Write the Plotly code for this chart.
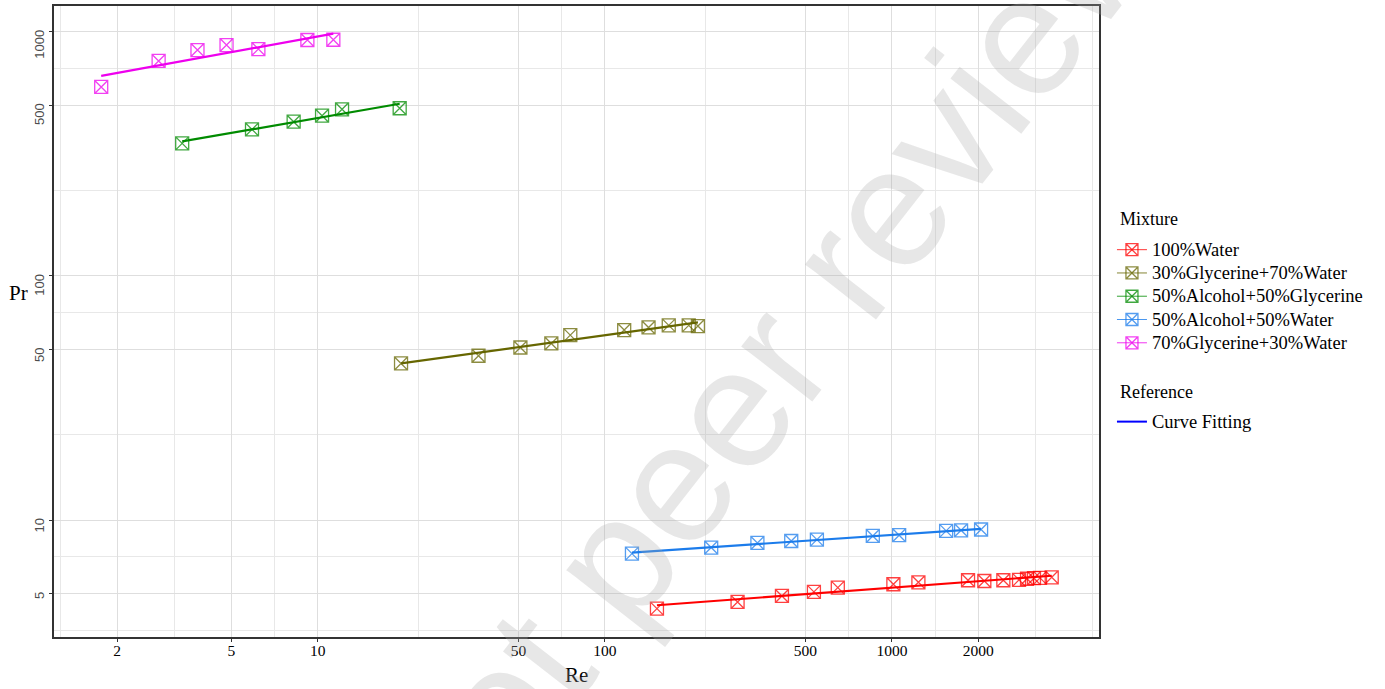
import numpy as np
import plotly.graph_objects as go

# ---------------- data ----------------
mixtures = ["100%Water", "30%Glycerine+70%Water", "50%Alcohol+50%Glycerine",
            "50%Alcohol+50%Water", "70%Glycerine+30%Water"]

re_water = [151.9, 290, 414, 535, 648, 1012, 1237, 1842, 2099, 2445, 2773, 2956, 3126, 3281, 3604]
pr_water = [4.34, 4.62, 4.89, 5.08, 5.29, 5.46, 5.56, 5.67, 5.63, 5.67, 5.69, 5.75, 5.78, 5.80, 5.83]

re_gly30 = [19.5, 36.3, 50.8, 65.1, 75.8, 116.8, 142, 167, 196, 211]
pr_gly30 = [43.8, 47.1, 50.9, 52.9, 57.2, 60.0, 61.5, 62.7, 62.7, 62.3]

re_alc_gly = [3.37, 5.90, 8.24, 10.35, 12.15, 19.29]
pr_alc_gly = [349, 398, 428, 453, 481, 486]

re_alc_wat = [124.3, 234.7, 340, 446, 548, 858, 1060, 1545, 1742, 2045]
pr_alc_wat = [7.29, 7.72, 8.06, 8.21, 8.32, 8.61, 8.67, 9.03, 9.08, 9.15]

re_gly70 = [1.76, 2.79, 3.81, 4.81, 6.21, 9.20, 11.33]
pr_gly70 = [594, 759, 841, 882, 849, 925, 927]

x_breaks = [2, 5, 10, 50, 100, 500, 1000, 2000]
y_breaks = [5, 10, 50, 100, 500, 1000]
x_minor = [1.265, 3.162, 7.071, 22.36, 70.71, 223.6, 707.1, 1414, 3162, 5000]
y_minor = [3.536, 7.071, 22.36, 70.71, 223.6, 707.1]

series_re = [re_water, re_gly30, re_alc_gly, re_alc_wat, re_gly70]
series_pr = [pr_water, pr_gly30, pr_alc_gly, pr_alc_wat, pr_gly70]
colors = ["#FF0000", "#666600", "#008B00", "#1C7CEB", "#EE00EE"]

SERIF = "Liberation Serif, Times New Roman, serif"
SANS = "Liberation Sans, Arial, sans-serif"


def big(text, px):
    return "<span style='font-size:%spx'>%s</span>" % (px, text)


fig = go.Figure()

# fitted power-law lines (least squares in log-log space) and data points
for name, xs, ys, col in zip(mixtures, series_re, series_pr, colors):
    lx, ly = np.log10(xs), np.log10(ys)
    k, b = np.polyfit(lx, ly, 1)
    order = np.argsort(xs)
    xfit = np.array(xs)[order]
    yfit = 10 ** (b + k * np.log10(xfit))
    fig.add_trace(go.Scatter(x=xfit, y=yfit, mode="lines",
                             line=dict(color=col, width=2.2),
                             showlegend=False, hoverinfo="skip"))
    fig.add_trace(go.Scatter(x=xs, y=ys, mode="markers",
                             marker=dict(symbol="square-x-open", size=13, color=col,
                                         opacity=0.75, line=dict(width=1.3, color=col)),
                             showlegend=False, name=name))

# legend entries
for name, col in zip(mixtures, colors):
    fig.add_trace(go.Scatter(x=[None], y=[None], mode="lines+markers", name=big(name, 18.5),
                             line=dict(color=col, width=0.8),
                             marker=dict(symbol="square-x-open", size=12, color=col,
                                         opacity=0.75, line=dict(width=1.3, color=col)),
                             legend="legend"))
fig.add_trace(go.Scatter(x=[None], y=[None], mode="lines", name=big("Curve Fitting", 18.5),
                         line=dict(color="#0000FF", width=2), legend="legend2"))

# invisible copy of the label keeps the rotated text ending at the tick (ggplot hjust=1)
y_ticktext = ["%s<span style='color:rgba(0,0,0,0)'>%s</span>" % (v, v) for v in y_breaks]

fig.update_layout(
    width=1385, height=689,
    margin=dict(l=54, r=286, t=6, b=52, autoexpand=False),
    paper_bgcolor="white", plot_bgcolor="white",
    showlegend=True,
    xaxis=dict(type="log", range=[0.0811, 3.7215], automargin=False,
               tickmode="array", tickvals=x_breaks, ticktext=[str(v) for v in x_breaks],
               tickfont=dict(family=SERIF, size=15.5, color="black"),
               ticks="outside", ticklen=3, tickcolor="#333333",
               ticklabelstandoff=-4,
               showgrid=True, gridcolor="#DEDEDE", gridwidth=1,
               minor=dict(tickmode="array", tickvals=x_minor, showgrid=True,
                          gridcolor="#E8E8E8", gridwidth=0.8, ticks=""),
               showline=True, linecolor="#333333", linewidth=1.5, mirror=True,
               zeroline=False),
    yaxis=dict(type="log", range=[0.5212, 3.1053], automargin=False,
               tickmode="array", tickvals=y_breaks, ticktext=y_ticktext,
               tickangle=-90,
               tickfont=dict(family=SANS, size=13, color="#4D4D4D"),
               ticks="outside", ticklen=3, tickcolor="#333333",
               showgrid=True, gridcolor="#DEDEDE", gridwidth=1,
               minor=dict(tickmode="array", tickvals=y_minor, showgrid=True,
                          gridcolor="#E8E8E8", gridwidth=0.8, ticks=""),
               showline=True, linecolor="#333333", linewidth=1.5, mirror=True,
               zeroline=False),
    legend=dict(x=1.0124, xanchor="left", y=0.6402, yanchor="top",
                font=dict(family=SERIF, size=15.6, color="black"),
                bgcolor="rgba(0,0,0,0)", tracegroupgap=0),
    legend2=dict(x=1.0124, xanchor="left", y=0.3677, yanchor="top",
                 font=dict(family=SERIF, size=15.6, color="black"),
                 bgcolor="rgba(0,0,0,0)"),
    annotations=[
        dict(text="Mixture", xref="paper", yref="paper", x=1.0182, y=0.6624,
             xanchor="left", yanchor="middle", showarrow=False,
             font=dict(family=SERIF, size=18, color="black")),
        dict(text="Reference", xref="paper", yref="paper", x=1.0182, y=0.3883,
             xanchor="left", yanchor="middle", showarrow=False,
             font=dict(family=SERIF, size=18, color="black")),
        dict(text="Re", xref="paper", yref="paper", x=0.5, y=-0.0602,
             xanchor="center", yanchor="middle", showarrow=False,
             font=dict(family=SERIF, size=21, color="black")),
        dict(text="Pr", xref="paper", yref="paper", x=-0.0344, y=0.545,
             xanchor="center", yanchor="middle", showarrow=False,
             font=dict(family=SERIF, size=21, color="black")),
        dict(text="Preprint not peer reviewed", xref="paper", yref="paper",
             x=0.549, y=0.1498, xanchor="center", yanchor="middle", showarrow=False,
             textangle=-52,
             font=dict(family=SANS, size=170, color="rgba(170,170,170,0.28)")),
    ],
)

fig.write_html("out.html")
